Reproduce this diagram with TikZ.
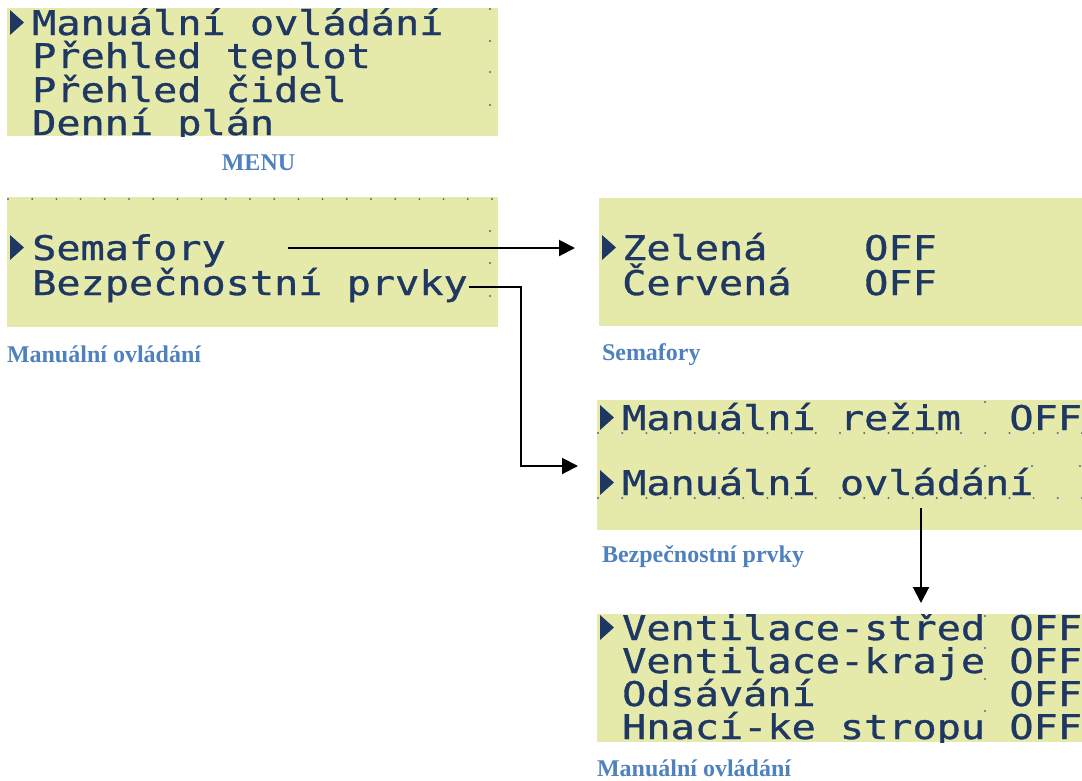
\documentclass[tikz,border=0pt]{standalone}
\usepackage{fontspec}
\usetikzlibrary{arrows.meta}
\newfontfamily\lcdfont[FakeStretch=1.182,FakeBold=1]{DejaVu Sans Mono}
\newfontfamily\capfont{Liberation Serif}
\definecolor{lcdbg}{RGB}{229,233,170}
\definecolor{lcdink}{RGB}{31,56,99}
\definecolor{capblue}{RGB}{79,129,189}
\begin{document}
\begin{tikzpicture}[x=1pt,y=-1pt,
  panel/.style={fill=lcdbg, draw=none, inner sep=0pt, outer sep=0pt, anchor=north west},
  lcd/.style={font=\lcdfont\fontsize{34}{34}\selectfont, text=lcdink, inner sep=0pt, outer sep=0pt, anchor=base west},
  lbl/.style={font=\capfont\bfseries\fontsize{24}{24}\selectfont, text=capblue, inner sep=0pt, outer sep=0pt, anchor=base west},
  conn/.style={line width=2pt, -{Triangle[length=16pt,width=16pt]}},
  lcdcursor/.pic={\fill[lcdink] (2,-25) -- (2,0) -- (16,-12.5) -- cycle;},
  pixdot/.style={fill=lcdink!75}
]
\useasboundingbox (0,0) rectangle (1082,780);

% ---------------- panel 1: MENU
\node[panel, minimum width=491pt, minimum height=128pt] (p1) at (7,8) {};
\begin{scope}
\clip (p1.north west) rectangle (p1.south east);
\foreach \yy in {9,41,72,105} \fill[pixdot] (490,\yy) circle (1.1pt);
\pic at (8,35) {lcdcursor};
\node[lcd] (m1) at (32.2,35) {Manuální ovládání};
\node[lcd] (m2) at (32.2,68) {Přehled teplot};
\node[lcd] (m3) at (32.2,102) {Přehled čidel};
\node[lcd] (m4) at (32.2,135) {Denní plán};
\end{scope}
\node[lbl, anchor=base] (l1) at (258.5,170) {MENU};

% ---------------- panel 2: Manualni ovladani
\node[panel, minimum width=491pt, minimum height=130pt] (p2) at (7,197) {};
\begin{scope}
\clip (p2.north west) rectangle (p2.south east);
\foreach \k in {0,...,20} \fill[pixdot] (8+24.2*\k,199) circle (1.1pt);
\foreach \yy in {231,263,296} \fill[pixdot] (490,\yy) circle (1.1pt);
\pic at (8,260) {lcdcursor};
\node[lcd] (sem) at (32.2,260) {Semafory};
\node[lcd] (bez) at (32.2,295) {Bezpečnostní prvky};
\end{scope}
\node[lbl] (l2) at (7,362) {Manuální ovládání};

% ---------------- panel 3: Semafory
\node[panel, minimum width=483pt, minimum height=128pt] (p3) at (599,198) {};
\begin{scope}
\clip (p3.north west) rectangle (p3.south east);
\pic at (600,260) {lcdcursor};
\node[lcd] (zel) at (622.2,260) {Zelená};
\node[lcd] (zeloff) at (864.2,260) {OFF};
\node[lcd] (cer) at (622.2,295) {Červená};
\node[lcd] (ceroff) at (864.2,295) {OFF};
\end{scope}
\node[lbl] (l3) at (602,360) {Semafory};

% ---------------- panel 4: Bezpecnostni prvky
\node[panel, minimum width=485pt, minimum height=130pt] (p4) at (597,400) {};
\begin{scope}
\clip (p4.north west) rectangle (p4.south east);
\foreach \k in {0,...,20} {
  \fill[pixdot] (598+24.2*\k,433) circle (1.1pt);
  \fill[pixdot] (598+24.2*\k,498) circle (1.1pt);
}
\fill[pixdot] (985,402) circle (1.1pt);
\foreach \xx in {985,1032,1080} \fill[pixdot] (\xx,466) circle (1.1pt);
\pic at (598,430) {lcdcursor};
\node[lcd] (rez) at (622.2,430) {Manuální režim};
\node[lcd] (rezoff) at (1009.4,430) {OFF};
\pic at (598,495) {lcdcursor};
\node[lcd] (ovl) at (622.2,495) {Manuální ovládání};
\end{scope}
\node[lbl] (l4) at (602,562) {Bezpečnostní prvky};

% ---------------- panel 5: Manualni ovladani
\node[panel, minimum width=485pt, minimum height=128pt] (p5) at (597,614) {};
\begin{scope}
\clip (p5.north west) rectangle (p5.south east);
\foreach \yy in {616,648,679,711} \fill[pixdot] (985,\yy) circle (1.1pt);
\pic at (598,640) {lcdcursor};
\node[lcd] (v1) at (622.2,640) {Ventilace-střed};
\node[lcd] (v1off) at (1009.4,640) {OFF};
\node[lcd] (v2) at (622.2,673) {Ventilace-kraje};
\node[lcd] (v2off) at (1009.4,673) {OFF};
\node[lcd] (v3) at (622.2,706) {Odsávání};
\node[lcd] (v3off) at (1009.4,706) {OFF};
\node[lcd] (v4) at (622.2,739) {Hnací-ke stropu};
\node[lcd] (v4off) at (1009.4,739) {OFF};
\end{scope}
\node[lbl] (l5) at (597,776) {Manuální ovládání};

% ---------------- connectors
\coordinate (a1s) at (288,248);
\coordinate (a1e) at (575,248);
\draw[conn] (a1s) -- (a1e);
\coordinate (a2s) at (469,287);
\coordinate (a2e) at (578,466);
\draw[conn] (a2s) -- ++(52,0) |- (a2e);
\coordinate (a3s) at (921,508);
\coordinate (a3e) at (921,603);
\draw[conn] (a3s) -- (a3e);
\end{tikzpicture}
\end{document}
